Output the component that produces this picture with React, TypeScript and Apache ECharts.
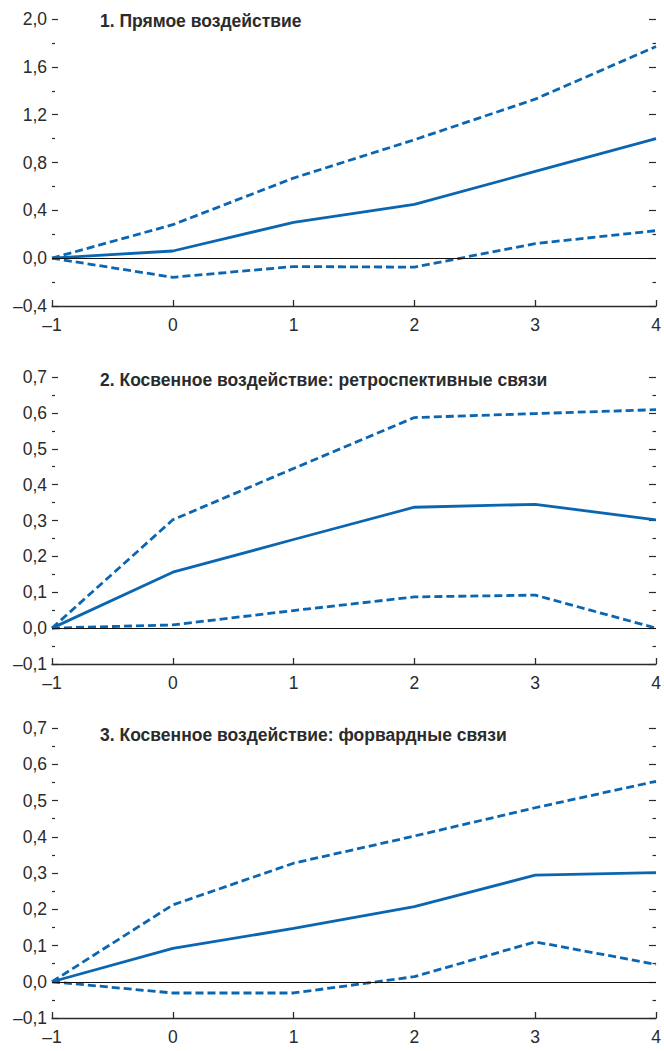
import React, { useEffect, useRef } from "react";
import * as echarts from "echarts";

// Horizons (years after the shock)
const horizons = [-1, 0, 1, 2, 3, 4];
const xTicks = { min: -1, max: 4, interval: 1 };

// 1. Direct effect
const directMid = [0, 0.06, 0.3, 0.45, 0.725, 1.0];
const directUpper = [0, 0.28, 0.67, 0.99, 1.33, 1.77];
const directLower = [0, -0.16, -0.07, -0.075, 0.122, 0.23];

// 2. Indirect effect: backward linkages
const backMid = [0, 0.156, 0.247, 0.337, 0.345, 0.302];
const backUpper = [0, 0.302, 0.445, 0.587, 0.598, 0.609];
const backLower = [0, 0.009, 0.049, 0.087, 0.092, 0.0];

// 3. Indirect effect: forward linkages
const fwdMid = [0, 0.092, 0.147, 0.207, 0.294, 0.301];
const fwdUpper = [0, 0.212, 0.327, 0.402, 0.48, 0.553];
const fwdLower = [0, -0.031, -0.031, 0.014, 0.11, 0.048];

const titles = [
  "1. Прямое воздействие",
  "2. Косвенное воздействие: ретроспективные связи",
  "3. Косвенное воздействие: форвардные связи",
];

const yRanges = [
  { min: -0.4, max: 2.0, interval: 0.4 },
  { min: -0.1, max: 0.7, interval: 0.1 },
  { min: -0.1, max: 0.7, interval: 0.1 },
];

const panels = [
  { mid: directMid, upper: directUpper, lower: directLower },
  { mid: backMid, upper: backUpper, lower: backLower },
  { mid: fwdMid, upper: fwdUpper, lower: fwdLower },
];

const gridBoxes = [
  { top: 19, height: 287 },
  { top: 377, height: 287 },
  { top: 728, height: 290 },
];
const titleY = [22, 381, 736];

const BLUE = "#0b66b2";
const INK = "#2b2b2b";
const FONT = "'Liberation Sans Narrow', 'Arial Narrow', 'Liberation Sans', sans-serif";

const fmtY = (v: number) => {
  const s = (Math.round(v * 10) / 10).toFixed(1).replace(".", ",");
  return s.startsWith("-") ? "–" + s.slice(1) : s;
};
const fmtX = (v: number) => (v < 0 ? "–" + Math.abs(v) : String(v));

const pairs = (ys: number[]) => horizons.map((h, i) => [h, ys[i]]);

export default function App() {
  const ref = useRef<HTMLDivElement>(null);

  useEffect(() => {
    if (!ref.current) return;
    const chart = echarts.init(ref.current, null, { renderer: "svg" });

    const grid: any[] = [];
    const xAxis: any[] = [];
    const yAxis: any[] = [];
    const series: any[] = [];
    const graphic: any[] = [];

    panels.forEach((p, i) => {
      grid.push({ left: 52, right: 8, top: gridBoxes[i].top, height: gridBoxes[i].height });
      xAxis.push({
        type: "value",
        gridIndex: i,
        ...xTicks,
        axisLine: { show: true, onZero: false, lineStyle: { color: INK, width: 1.3 } },
        axisTick: { show: true, inside: true, length: 6, lineStyle: { color: INK, width: 1.3 } },
        axisLabel: { formatter: fmtX, color: INK, fontSize: 17.5, fontFamily: FONT, margin: 10 },
        splitLine: { show: false },
      });
      const yr = yRanges[i];
      const common = {
        type: "value",
        gridIndex: i,
        min: yr.min,
        max: yr.max,
        interval: yr.interval,
        splitLine: { show: false },
        minorSplitLine: { show: false },
      };
      yAxis.push({
        ...common,
        position: "left",
        axisLine: { show: false, onZero: false },
        axisTick: { show: true, inside: true, length: 6, lineStyle: { color: INK, width: 1.2 } },
        minorTick: { show: true, splitNumber: 2, length: 3, lineStyle: { color: INK, width: 1.2 } },
        axisLabel: { formatter: fmtY, color: INK, fontSize: 17.5, fontFamily: FONT, margin: 5 },
      });
      yAxis.push({
        ...common,
        position: "right",
        axisLine: { show: false, onZero: false },
        axisTick: { show: true, inside: true, length: 7, lineStyle: { color: INK, width: 1.2 } },
        minorTick: { show: true, splitNumber: 2, length: 3.5, lineStyle: { color: INK, width: 1.2 } },
        axisLabel: { show: false },
      });

      const base = {
        type: "line",
        xAxisIndex: i,
        yAxisIndex: i * 2,
        symbol: "none",
        showSymbol: false,
        silent: true,
      };
      series.push({
        ...base,
        name: `zero-${i}`,
        data: [],
        z: 1,
        markLine: {
          silent: true,
          symbol: ["none", "none"],
          label: { show: false },
          lineStyle: { color: "#111", width: 1, type: "solid" },
          data: [{ yAxis: 0 }],
        },
      });
      series.push({ ...base, z: 3, data: pairs(p.upper), lineStyle: { color: BLUE, width: 2.8, type: [8, 4] } });
      series.push({ ...base, z: 3, data: pairs(p.lower), lineStyle: { color: BLUE, width: 2.8, type: [8, 4] } });
      series.push({ ...base, z: 4, data: pairs(p.mid), lineStyle: { color: BLUE, width: 2.8 } });

      graphic.push({
        type: "text",
        left: 100,
        top: titleY[i] - 10,
        style: {
          text: titles[i],
          fill: INK,
          font: `bold 17.5px ${FONT}`,
        },
      });
    });

    chart.setOption({
      animation: false,
      backgroundColor: "#ffffff",
      grid,
      xAxis,
      yAxis,
      series,
      graphic,
    });

    return () => chart.dispose();
  }, []);

  return (
    <div
      ref={ref}
      style={{ position: "absolute", left: 0, top: 0, width: 664, height: 1051 }}
    />
  );
}
